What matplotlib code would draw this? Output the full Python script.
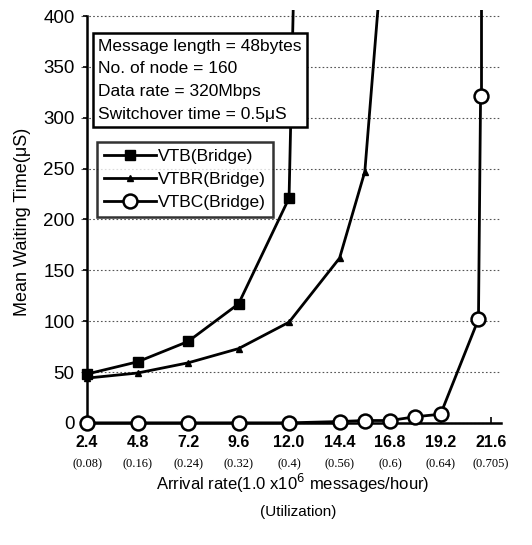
import matplotlib.pyplot as plt
from matplotlib.transforms import blended_transform_factory

plt.rcParams['font.family'] = ['Liberation Sans', 'DejaVu Sans']

# arrival rate ticks and utilization
rate_ticks = [2.4, 4.8, 7.2, 9.6, 12.0, 14.4, 16.8, 19.2, 21.6]
util_labels = ['(0.08)', '(0.16)', '(0.24)', '(0.32)', '(0.4)',
               '(0.56)', '(0.6)', '(0.64)', '(0.705)']

# VTB(Bridge)
vtb_x = [2.4, 4.8, 7.2, 9.6, 12.0, 14.4]
vtb_y = [48, 60, 80, 117, 221, 2480]

# VTBR(Bridge)
vtbr_x = [2.4, 4.8, 7.2, 9.6, 12.0, 14.4, 15.6, 16.8]
vtbr_y = [44, 49, 59, 73, 99, 162, 247, 555]

# VTBC(Bridge)
vtbc_x = [2.4, 4.8, 7.2, 9.6, 12.0, 14.4, 15.6, 16.8, 18.0, 19.2, 21.0, 21.1, 21.1]
vtbc_y = [0, 0, 0, 0, 0, 1.3, 2.3, 2.3, 6, 8.5, 102, 321, 900]

fig = plt.figure(figsize=(5.32, 5.45), dpi=100)
ax = fig.add_axes([0.1517, 0.2092, 0.79, 0.7725])

ax.plot(vtb_x, vtb_y, color='black', lw=2, marker='s', ms=7, label='VTB(Bridge)')
ax.plot(vtbr_x, vtbr_y, color='black', lw=2, marker='^', ms=4.5, label='VTBR(Bridge)')
ax.plot(vtbc_x[:-1], vtbc_y[:-1], color='black', lw=2, marker='o', ms=10,
        mfc='white', mew=1.8, label='VTBC(Bridge)', clip_on=False, zorder=5)
ax.plot(vtbc_x[-2:], vtbc_y[-2:], color='black', lw=2)

ax.set_xlim(2.1, 22.07)
ax.set_ylim(-8, 406)

ax.spines['top'].set_visible(False)
ax.spines['right'].set_visible(False)
ax.spines['left'].set_position(('data', 2.4))
ax.spines['bottom'].set_position(('data', 0))
ax.spines['left'].set_bounds(0, 400)
ax.spines['bottom'].set_bounds(2.4, 22.07)
ax.spines['left'].set_linewidth(1.8)
ax.spines['bottom'].set_linewidth(1.8)

ax.set_yticks(range(0, 401, 50))
ax.set_xticks(rate_ticks)
ax.set_xticklabels([f'{v:.1f}' for v in rate_ticks], fontsize=11.5, fontweight='bold')
ax.tick_params(axis='y', labelsize=13.5, length=3, width=1.2, direction='out', pad=6)
ax.tick_params(axis='x', length=4, width=1.2, direction='in', pad=9)
ax.yaxis.grid(True, linestyle=(0, (1.5, 2)), color='#555555', lw=0.8)

tr = blended_transform_factory(ax.transData, fig.transFigure)
for xv, lab in zip(rate_ticks, util_labels):
    ax.text(xv, 1 - 464 / 545, lab, transform=tr, ha='center', va='center',
            fontsize=9, family='Liberation Serif')

fig.text(0.551, 1 - 483 / 545, 'Arrival rate(1.0 x10$^6$ messages/hour)',
         ha='center', va='center', fontsize=12)
fig.text(0.56, 1 - 512 / 545, '(Utilization)', ha='center', va='center', fontsize=11)
fig.text(0.042, 1 - 222 / 545, 'Mean Waiting Time(\u03bcS)', rotation=90,
         ha='center', va='center', fontsize=13)

ax.text(0.041, 0.932,
        'Message length = 48bytes\nNo. of node = 160\nData rate = 320Mbps\n'
        'Switchover time = 0.5\u03bcS',
        transform=ax.transAxes, ha='left', va='top', fontsize=12.5, linespacing=1.65,
        bbox=dict(boxstyle='square,pad=0.3', fc='white', ec='black', lw=1.8), zorder=6)

leg = ax.legend(loc='upper left', bbox_to_anchor=(0.039, 0.686), fontsize=12.5,
                frameon=True, fancybox=False, edgecolor='black', borderpad=0.4,
                handlelength=3.0, handletextpad=0.1, labelspacing=0.45, borderaxespad=0)
leg.get_frame().set_linewidth(1.8)
leg.set_zorder(6)

fig.savefig('out.png', dpi=100)
